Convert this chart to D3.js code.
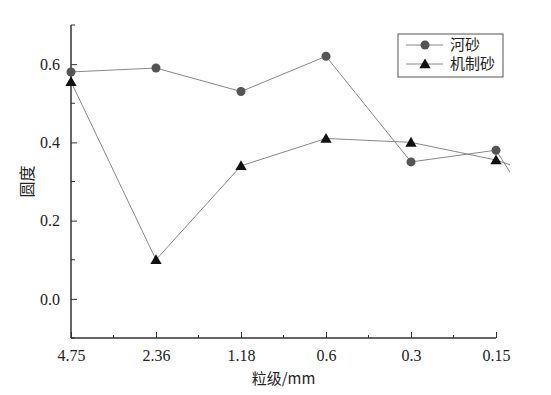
<!DOCTYPE html>
<html>
<head>
<meta charset="utf-8">
<script src="https://cdn.jsdelivr.net/npm/d3@7"></script>
<style>
  body { margin: 0; background: #fff; }
  svg text { fill: #222; }
</style>
</head>
<body>
<div id="chart"></div>
<script>
// categories (grain size, mm); the last one lies past the axis end and is clipped
var categories = ["4.75", "2.36", "1.18", "0.6", "0.3", "0.15", "0.075"];
var riverSand = [0.58, 0.59, 0.53, 0.62, 0.35, 0.38, 0.04];
var machineSand = [0.555, 0.10, 0.34, 0.41, 0.40, 0.355, 0.28];
var yTicks = [0.0, 0.2, 0.4, 0.6];
var yMinorTicks = [-0.1, 0.1, 0.3, 0.5, 0.7];
var seriesNames = ["河砂", "机制砂"];

var width = 551, height = 395;
var margin = { top: 25, right: 55, bottom: 57, left: 71 };
var innerW = width - margin.left - margin.right;
var innerH = height - margin.top - margin.bottom;

var svg = d3.select("#chart").append("svg")
    .attr("width", width)
    .attr("height", height);

var g = svg.append("g")
    .attr("transform", "translate(" + margin.left + "," + margin.top + ")");

var step = innerW / 5;
var x = d3.scalePoint()
    .domain(categories)
    .range([0, step * 6]);

var y = d3.scaleLinear()
    .domain([-0.1, 0.7])
    .range([innerH, 0]);

// axes
var xAxis = d3.axisBottom(x)
    .tickValues(categories.slice(0, 6))
    .tickSizeInner(-6)
    .tickSizeOuter(0)
    .tickPadding(12);

g.append("g")
    .attr("class", "x-axis")
    .attr("transform", "translate(0," + innerH + ")")
    .call(xAxis);

// minor x ticks between categories
g.append("g")
    .selectAll("line")
    .data(categories.slice(0, 5))
    .enter().append("line")
    .attr("x1", d => x(d) + step / 2)
    .attr("x2", d => x(d) + step / 2)
    .attr("y1", innerH)
    .attr("y2", innerH - 3)
    .attr("stroke", "#333");

g.append("line")
    .attr("x1", 0).attr("x2", innerW)
    .attr("y1", innerH).attr("y2", innerH)
    .attr("stroke", "#333").attr("stroke-width", 1.5);

var yAxis = d3.axisLeft(y)
    .tickValues(yTicks)
    .tickFormat(d3.format(".1f"))
    .tickSizeInner(-6)
    .tickSizeOuter(0)
    .tickPadding(11);

g.append("g")
    .attr("class", "y-axis")
    .call(yAxis);

g.append("g")
    .selectAll("line")
    .data(yMinorTicks)
    .enter().append("line")
    .attr("x1", 0).attr("x2", 4)
    .attr("y1", d => y(d)).attr("y2", d => y(d))
    .attr("stroke", "#333");

g.append("line")
    .attr("x1", 0).attr("x2", 0)
    .attr("y1", 0).attr("y2", innerH)
    .attr("stroke", "#333").attr("stroke-width", 1.5);

g.selectAll(".x-axis path, .y-axis path").remove();
g.selectAll(".x-axis line, .y-axis line").attr("stroke", "#333");
g.selectAll(".x-axis text, .y-axis text")
    .style("font-family", "'Liberation Serif', serif")
    .style("font-size", "16px")
    .attr("fill", "#222");

// axis titles
svg.append("text")
    .attr("x", margin.left + innerW / 2)
    .attr("y", 384)
    .attr("text-anchor", "middle")
    .style("font-family", "'Noto Sans CJK SC', sans-serif")
    .style("font-size", "15px")
    .text("粒级/mm");

svg.append("text")
    .attr("transform", "translate(33," + (margin.top + y(0.3)) + ") rotate(-90)")
    .attr("text-anchor", "middle")
    .style("font-family", "'Noto Sans CJK SC', sans-serif")
    .style("font-size", "16px")
    .text("圆度");

// lines clipped a little past the last tick
svg.append("defs").append("clipPath")
    .attr("id", "clip")
    .append("rect")
    .attr("x", -10).attr("y", -10)
    .attr("width", innerW + 24).attr("height", innerH + 20);

var line = d3.line()
    .x((d, i) => x(categories[i]))
    .y(d => y(d));

var plot = g.append("g").attr("clip-path", "url(#clip)");

plot.append("path")
    .datum(riverSand)
    .attr("d", line)
    .attr("fill", "none")
    .attr("stroke", "#888")
    .attr("stroke-width", 1);

plot.append("path")
    .datum(machineSand)
    .attr("d", line)
    .attr("fill", "none")
    .attr("stroke", "#888")
    .attr("stroke-width", 1);

var tri = d3.symbol().type(d3.symbolTriangle).size(55);

g.selectAll(".dot")
    .data(riverSand.slice(0, 6))
    .enter().append("circle")
    .attr("class", "dot")
    .attr("cx", (d, i) => x(categories[i]))
    .attr("cy", d => y(d))
    .attr("r", 4.5)
    .attr("fill", "#555");

g.selectAll(".tri")
    .data(machineSand.slice(0, 6))
    .enter().append("path")
    .attr("class", "tri")
    .attr("d", tri)
    .attr("transform", (d, i) => "translate(" + x(categories[i]) + "," + (y(d) + 1) + ")")
    .attr("fill", "#111");

// legend
var legend = svg.append("g").attr("transform", "translate(398,34)");
legend.append("rect")
    .attr("width", 105).attr("height", 43)
    .attr("fill", "#fff")
    .attr("stroke", "#555");

var rows = legend.selectAll(".row")
    .data(seriesNames)
    .enter().append("g")
    .attr("transform", (d, i) => "translate(0," + (11 + i * 19) + ")");

rows.append("line")
    .attr("x1", 8).attr("x2", 45)
    .attr("stroke", "#888");

rows.filter((d, i) => i === 0).append("circle")
    .attr("cx", 27).attr("r", 4.5).attr("fill", "#555");

rows.filter((d, i) => i === 1).append("path")
    .attr("d", tri)
    .attr("transform", "translate(27,1)")
    .attr("fill", "#111");

rows.append("text")
    .attr("x", 52)
    .attr("dy", "0.35em")
    .style("font-family", "'Noto Sans CJK SC', sans-serif")
    .style("font-size", "15px")
    .text(d => d);
</script>
</body>
</html>
